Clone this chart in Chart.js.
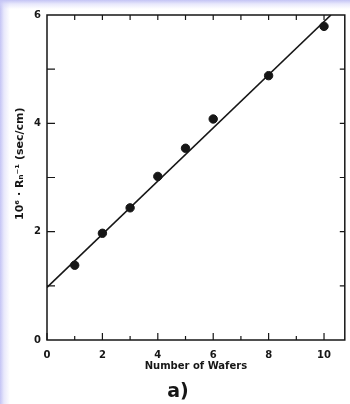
<!DOCTYPE html>
<html lang="en">
<head>
  <meta charset="UTF-8" />
  <title>Number of Wafers</title>
  <script src="https://cdn.jsdelivr.net/npm/chart.js"></script>
  <style>
    html, body {
      margin: 0;
      padding: 0;
    }
    body {
      width: 350px;
      height: 404px;
      overflow: hidden;
      background:
        linear-gradient(to bottom, rgba(196,196,245,1) 0, rgba(210,210,248,0.5) 4px, rgba(255,255,255,0) 9px),
        linear-gradient(to right, rgba(196,196,245,1) 0, rgba(210,210,248,0.5) 4px, rgba(255,255,255,0) 10px),
        #ffffff;
    }
    canvas {
      display: block;
    }
  </style>
</head>
<body>
  <canvas id="waferChart" width="350" height="404"></canvas>

  <script>
    // measured points
    const wafers = [1, 2, 3, 4, 5, 6, 8, 10];
    const invResistance = [1.38, 1.97, 2.44, 3.02, 3.54, 4.08, 4.88, 5.79];

    // straight line fit
    const fitX = [0, 10.25];
    const fitY = [0.97, 6.0];

    // ticks / labels
    const xTickValues = [0, 1, 2, 3, 4, 5, 6, 7, 8, 9, 10];
    const xLabels = [0, 2, 4, 6, 8, 10];
    const yTickValues = [0, 1, 2, 3, 4, 5, 6];
    const yLabels = [0, 2, 4, 6];

    const ink = '#161616';
    const font = { family: "'DejaVu Sans', sans-serif", size: 10, weight: 'bold' };

    // inward tick marks + box frame + panel label
    const frameTicks = {
      id: 'frameTicks',
      afterDatasetsDraw(chart) {
        const { ctx, chartArea: a, scales: { x, y } } = chart;
        ctx.save();
        ctx.strokeStyle = ink;
        ctx.lineWidth = 1.5;
        ctx.strokeRect(a.left, a.top, a.right - a.left, a.bottom - a.top);
        ctx.lineWidth = 1.2;
        ctx.beginPath();
        xTickValues.forEach(v => {
          const px = x.getPixelForValue(v);
          const up = xLabels.includes(v) ? 7 : 4;
          ctx.moveTo(px, a.bottom); ctx.lineTo(px, a.bottom - up);
          if (v > 0) { ctx.moveTo(px, a.top); ctx.lineTo(px, a.top + 5); }
        });
        yTickValues.forEach(v => {
          const py = y.getPixelForValue(v);
          if (v > 0 && v < 6) {
            ctx.moveTo(a.left, py); ctx.lineTo(a.left + 8, py);
            ctx.moveTo(a.right, py); ctx.lineTo(a.right - 5, py);
          }
        });
        ctx.stroke();
        ctx.restore();
      },
      afterDraw(chart) {
        const { ctx } = chart;
        ctx.save();
        ctx.fillStyle = ink;
        ctx.font = "bold 19px 'DejaVu Sans', sans-serif";
        ctx.textAlign = 'center';
        ctx.textBaseline = 'middle';
        ctx.fillText('a)', 178, 392);
        ctx.restore();
      }
    };

    new Chart(document.getElementById('waferChart').getContext('2d'), {
      type: 'scatter',
      data: {
        datasets: [
          {
            label: 'fit',
            type: 'line',
            data: fitX.map((v, i) => ({ x: v, y: fitY[i] })),
            borderColor: ink,
            borderWidth: 1.6,
            pointRadius: 0,
            fill: false
          },
          {
            label: 'wafers',
            data: wafers.map((v, i) => ({ x: v, y: invResistance[i] })),
            backgroundColor: ink,
            borderColor: ink,
            pointRadius: 4.2
          }
        ]
      },
      options: {
        responsive: false,
        animation: false,
        devicePixelRatio: 1,
        layout: { padding: { top: 15, right: 3, left: 0, bottom: 0 } },
        plugins: {
          legend: { display: false },
          tooltip: { enabled: false }
        },
        scales: {
          x: {
            type: 'linear',
            min: 0,
            max: 10.75,
            afterFit(s) { s.height = 64; },
            afterBuildTicks(s) { s.ticks = xTickValues.map(v => ({ value: v })); },
            grid: { display: false, drawTicks: false },
            border: { display: false },
            ticks: {
              autoSkip: false,
              maxRotation: 0,
              padding: 9,
              color: ink,
              font: font,
              callback: v => xLabels.includes(v) ? String(v) : ''
            },
            title: {
              display: true,
              text: 'Number of Wafers',
              color: ink,
              font: font,
              padding: { top: 0, bottom: 32 }
            }
          },
          y: {
            min: 0,
            max: 6,
            afterFit(s) { s.width = 47; },
            afterBuildTicks(s) { s.ticks = yTickValues.map(v => ({ value: v })); },
            grid: { display: false, drawTicks: false },
            border: { display: false },
            ticks: {
              autoSkip: false,
              padding: 6,
              color: ink,
              font: font,
              callback: v => yLabels.includes(v) ? String(v) : ''
            },
            title: {
              display: true,
              // leading spaces nudge the rotated title upward like the original
              text: '\u2002\u2002\u2002\u2002\u200210⁶ · Rₙ⁻¹ (sec/cm)',
              color: ink,
              font: { family: "'DejaVu Sans', sans-serif", size: 11, weight: 'bold' },
              padding: { top: 14, bottom: 0 }
            }
          }
        }
      },
      plugins: [frameTicks]
    });
  </script>
</body>
</html>
